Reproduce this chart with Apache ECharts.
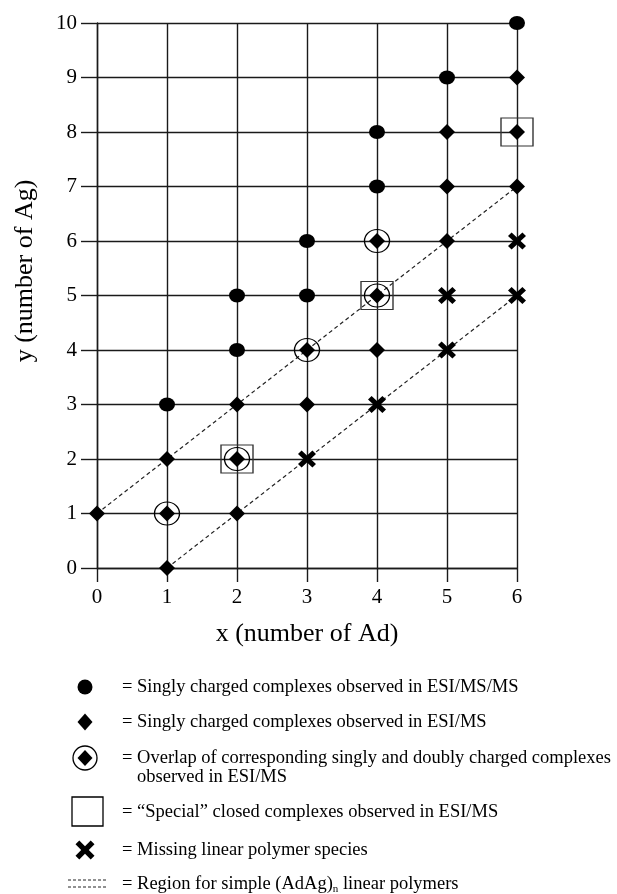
<!DOCTYPE html>
<html>
<head>
<meta charset="utf-8">
<script src="https://cdn.jsdelivr.net/npm/echarts@6/dist/echarts.min.js"></script>
<style>
html,body{margin:0;padding:0;background:#fff;}
#chart{width:617px;height:894px;}
</style>
</head>
<body>
<div id="chart"></div>
<script>
// ---- data ----
var xTicks = [0, 1, 2, 3, 4, 5, 6];
var yTicks = [0, 1, 2, 3, 4, 5, 6, 7, 8, 9, 10];
var circlePts = [[1,3],[2,4],[2,5],[3,5],[3,6],[4,7],[4,8],[5,9],[6,10]];
var diamondPts = [[0,1],[1,0],[1,1],[1,2],[2,1],[2,2],[2,3],[3,3],[3,4],[4,4],[4,5],[4,6],[5,6],[5,7],[5,8],[6,7],[6,8],[6,9]];
var overlapPts = [[1,1],[2,2],[3,4],[4,5],[4,6]];
var specialPts = [[2,2],[4,5],[6,8]];
var missingPts = [[3,2],[4,3],[5,4],[5,5],[6,5],[6,6]];
var upperRegion = [[0,1],[6,7]];
var lowerRegion = [[1,0],[6,5]];
var xName = 'x (number of Ad)';
var yName = 'y (number of Ag)';
var legendTexts = [
  '= Singly charged complexes observed in ESI/MS/MS',
  '= Singly charged complexes observed in ESI/MS',
  '= Overlap of corresponding singly and doubly charged complexes',
  'observed in ESI/MS',
  '= \u201cSpecial\u201d closed complexes observed in ESI/MS',
  '= Missing linear polymer species'
];

var FONT = 'Liberation Serif';
var INK = '#000';
var crossPath = 'path://M2,0 L5,3 L8,0 L10,2 L7,5 L10,8 L8,10 L5,7 L2,10 L0,8 L3,5 L0,2 Z';

var chart = echarts.init(document.getElementById('chart'));
var gridLine = {color: '#1a1a1a', width: 1.4};

function txt(x, y, s, extra) {
  var o = {type: 'text', x: x, y: y, style: {text: s, font: '18.5px "' + FONT + '"', fill: INK, textVerticalAlign: 'middle'}};
  if (extra) for (var k in extra) o.style[k] = extra[k];
  return o;
}
function diamondPoly(cx, cy, w, h) {
  return {type: 'polygon', shape: {points: [[cx, cy - h/2],[cx + w/2, cy],[cx, cy + h/2],[cx - w/2, cy]]}, style: {fill: INK}};
}
function crossPoly(cx, cy, s) {
  var u = s / 10;
  var p = [[2,0],[5,3],[8,0],[10,2],[7,5],[10,8],[8,10],[5,7],[2,10],[0,8],[3,5],[0,2]];
  return {type: 'polygon', shape: {points: p.map(function(q){return [cx - s/2 + q[0]*u, cy - s/2 + q[1]*u];})}, style: {fill: INK}};
}

var mx = 85;
var graphics = [
  {type: 'text', x: 25, y: 271, rotation: Math.PI/2, style: {text: yName, font: '26px "' + FONT + '"', fill: INK, textAlign: 'center', textVerticalAlign: 'middle'}},
  // row 1
  {type: 'circle', shape: {cx: mx, cy: 687, r: 7.5}, style: {fill: INK}},
  txt(122, 687, legendTexts[0]),
  // row 2
  diamondPoly(mx, 722, 15, 17),
  txt(122, 722, legendTexts[1]),
  // row 3
  {type: 'circle', shape: {cx: mx, cy: 758, r: 12}, style: {fill: 'none', stroke: INK, lineWidth: 1.3}},
  diamondPoly(mx, 758, 15, 16),
  txt(122, 758, legendTexts[2]),
  txt(137, 777, legendTexts[3]),
  // row 4
  {type: 'rect', shape: {x: 72, y: 797, width: 31, height: 29}, style: {fill: 'none', stroke: INK, lineWidth: 1.3}},
  txt(122, 812, legendTexts[4]),
  // row 5
  crossPoly(mx, 850, 19),
  txt(122, 850, legendTexts[5]),
  // row 6
  {type: 'line', shape: {x1: 68, y1: 880, x2: 107, y2: 880}, style: {stroke: '#222', lineWidth: 1, lineDash: [3, 2]}},
  {type: 'line', shape: {x1: 68, y1: 887, x2: 107, y2: 887}, style: {stroke: '#222', lineWidth: 1, lineDash: [3, 2]}},
  {type: 'text', x: 122, y: 884, style: {
    text: '= Region for simple (AdAg){sub|n} linear polymers',
    font: '18.5px "' + FONT + '"', fill: INK, textVerticalAlign: 'middle',
    rich: {sub: {fontSize: 11, fontFamily: FONT, fill: INK, verticalAlign: 'bottom', padding: [10, 0, 0, 0]}}
  }}
];

function scatter(name, data, symbol, size, style, z) {
  style.opacity = 1;
  return {name: name, type: 'scatter', data: data, symbol: symbol, symbolSize: size, itemStyle: style, z: z, clip: false, silent: true};
}

var option = {
  animation: false,
  backgroundColor: '#fff',
  grid: {left: 97, right: 100, top: 23, bottom: 326, containLabel: false},
  xAxis: {
    type: 'value', min: xTicks[0], max: xTicks[xTicks.length - 1], interval: 1,
    name: xName, nameLocation: 'middle', nameGap: 53,
    nameTextStyle: {fontFamily: FONT, fontSize: 26, color: INK},
    axisLine: {show: true, lineStyle: gridLine},
    axisTick: {show: true, length: 14, lineStyle: gridLine},
    axisLabel: {margin: 19, fontFamily: FONT, fontSize: 21, color: INK},
    splitLine: {show: true, lineStyle: gridLine}
  },
  yAxis: {
    type: 'value', min: yTicks[0], max: yTicks[yTicks.length - 1], interval: 1,
    axisLine: {show: true, lineStyle: gridLine},
    axisTick: {show: true, length: 16, lineStyle: gridLine},
    axisLabel: {margin: 20, fontFamily: FONT, fontSize: 21, color: INK},
    splitLine: {show: true, lineStyle: gridLine}
  },
  series: [
    {name: 'upper', type: 'line', data: upperRegion, symbol: 'none', lineStyle: {color: '#222', width: 1.2, type: [4, 3], opacity: 1}, z: 3, silent: true},
    {name: 'lower', type: 'line', data: lowerRegion, symbol: 'none', lineStyle: {color: '#222', width: 1.2, type: [4, 3], opacity: 1}, z: 3, silent: true},
    scatter('overlap', overlapPts, 'circle', [25, 23], {color: 'rgba(0,0,0,0)', borderColor: INK, borderWidth: 1.3}, 4),
    scatter('special', specialPts, 'rect', [32, 28], {color: 'rgba(0,0,0,0)', borderColor: '#333', borderWidth: 1.3}, 4),
    scatter('circles', circlePts, 'circle', [16, 14], {color: INK}, 5),
    scatter('diamonds', diamondPts, 'diamond', [16, 16], {color: INK}, 5),
    scatter('missing', missingPts, crossPath, [18, 17], {color: INK}, 5)
  ],
  graphic: graphics
};
chart.setOption(option);
</script>
</body>
</html>
